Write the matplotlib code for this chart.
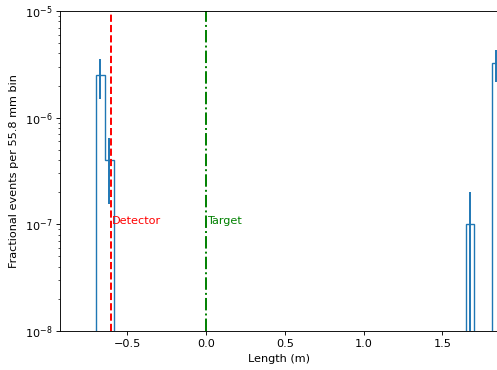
import numpy as np
import matplotlib
matplotlib.use("Agg")
import matplotlib.pyplot as plt

bin_width = 0.0558  # m

# bin index (centre = index * bin_width), value, error
bin_index = [-12, -11, 30, 33]
frac_events = [2.53e-6, 4.0e-7, 1.0e-7, 3.24e-6]
frac_errors = [1.02e-6, 2.45e-7, 1.0e-7, 1.1e-6]

markers = [-0.6, 0.0]
marker_names = ["Detector", "Target"]
marker_colors = ["red", "green"]
marker_styles = ["--", "-."]

s = 0.81
plt.rcParams.update({
    "font.size": 10 * s,
    "lines.linewidth": 1.4,
    "axes.linewidth": 0.8 * s,
    "xtick.major.size": 3.5 * s,
    "ytick.major.size": 3.5 * s,
    "xtick.minor.size": 2 * s,
    "ytick.minor.size": 2 * s,
    "xtick.major.width": 0.8 * s,
    "ytick.major.width": 0.8 * s,
    "ytick.minor.width": 0.6 * s,
    "xtick.major.pad": 3.5 * s,
    "ytick.major.pad": 3.5 * s,
})

fig, ax = plt.subplots(figsize=(4.97, 3.70), dpi=100)
fig.subplots_adjust(left=60 / 497, right=1.002, top=1 - 11 / 370, bottom=1 - 331 / 370)

idx = np.array(bin_index)
centers = idx * bin_width
edges = (np.arange(idx.min(), idx.max() + 2) - 0.5) * bin_width
ax.hist(centers, bins=edges, weights=frac_events, histtype="step", color="C0")
ax.errorbar(centers, frac_events, yerr=frac_errors, fmt="none", ecolor="C0")

for x, name, c, ls in zip(markers, marker_names, marker_colors, marker_styles):
    ax.axvline(x, color=c, linestyle=ls)
    ax.text(x + 0.006, 1e-7, name, color=c)

ax.set_yscale("log")
ax.set_ylim(1e-8, 1e-5)
ax.set_xlim(-0.926, 1.852)
ax.set_xlabel("Length (m)")
ax.set_ylabel("Fractional events per 55.8 mm bin")

fig.savefig("out.png", dpi=100)
